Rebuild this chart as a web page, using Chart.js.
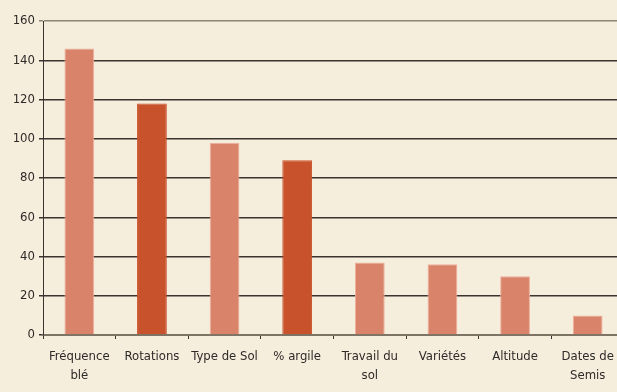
<!DOCTYPE html>
<html>
<head>
<meta charset="utf-8">
<script src="https://cdn.jsdelivr.net/npm/chart.js@4"></script>
<style>
  html, body { margin: 0; padding: 0; overflow: hidden; background: #f6eedd; }
  #wrap { width: 624px; height: 392px; }
</style>
</head>
<body>
<div id="wrap"><canvas id="chart"></canvas></div>
<script>
const categories = [
  ["Fréquence", "blé"],
  "Rotations",
  "Type de Sol",
  "% argile",
  ["Travail du", "sol"],
  "Variétés",
  "Altitude",
  ["Dates de", "Semis"],
];
const values = [146, 118, 98, 89, 37, 36, 30, 10];
const highlighted = [false, true, false, true, false, false, false, false];

const LIGHT = "#d9836b";
const DARK = "#c8522c";
const FONT = "'DejaVu Sans Condensed', 'Liberation Sans Narrow', sans-serif";

new Chart(document.getElementById("chart"), {
  type: "bar",
  data: {
    labels: categories,
    datasets: [
      {
        data: values,
        backgroundColor: highlighted.map((h) => (h ? DARK : LIGHT)),
        borderColor: highlighted.map((h) => (h ? DARK : "#eeb09c")),
        borderWidth: 1,
        borderSkipped: "bottom",
        categoryPercentage: 1,
        barPercentage: 0.41,
      },
    ],
  },
  options: {
    responsive: true,
    maintainAspectRatio: false,
    animation: false,
    layout: { padding: { top: 21, left: 0, right: 0, bottom: 0 } },
    plugins: { legend: { display: false }, tooltip: { enabled: false } },
    scales: {
      x: {
        afterFit: (scale) => { scale.height = 57; },
        grid: {
          offset: true,
          drawOnChartArea: false,
          drawTicks: true,
          tickLength: 4,
          color: "#3a3330",
        },
        border: { color: "#7d7466", width: 2 },
        ticks: {
          color: "#2e2a28",
          font: { family: FONT, size: 13, lineHeight: 1.45 },
          padding: 8,
          maxRotation: 0,
          autoSkip: false,
        },
      },
      y: {
        min: 0,
        max: 160,
        afterFit: (scale) => { scale.width = 43; },
        ticks: {
          stepSize: 20,
          color: "#2e2a28",
          font: { family: FONT, size: 13 },
          padding: 4,
        },
        grid: {
          tickLength: 4,
          lineWidth: 1.5,
          color: (ctx) => (ctx.tick && ctx.tick.value === 160 ? "#8c8474" : "#3a3330"),
        },
        border: { color: "#3a3330", width: 1 },
      },
    },
  },
});
</script>
</body>
</html>
